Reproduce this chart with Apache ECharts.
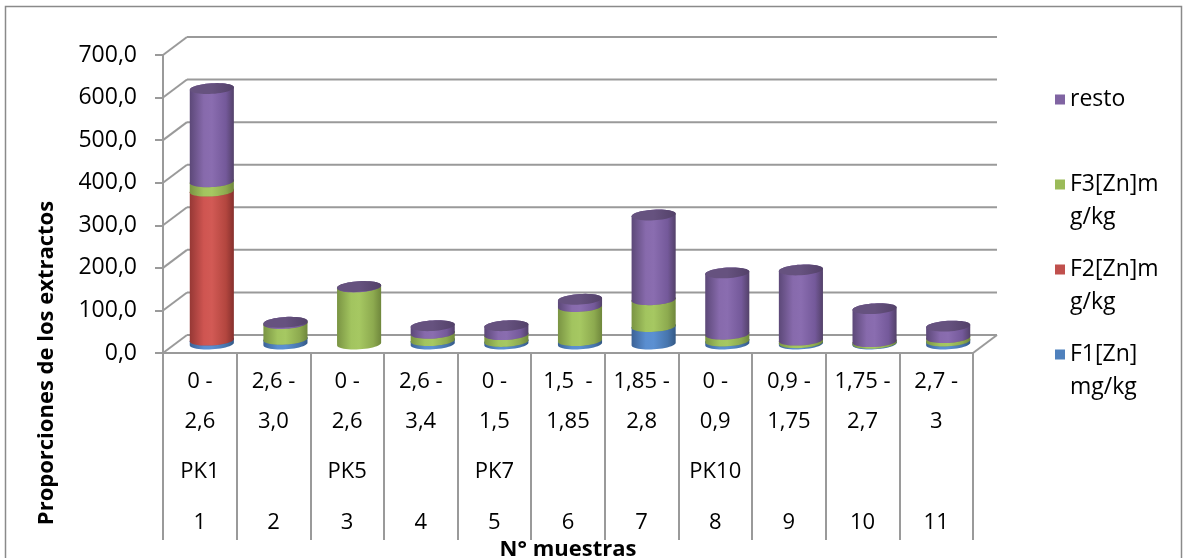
<!DOCTYPE html>
<html>
<head>
<meta charset="utf-8">
<script src="https://cdn.jsdelivr.net/npm/echarts@6/dist/echarts.min.js"></script>
<style>
  html, body { margin: 0; padding: 0; background: #ffffff; }
  #chart { width: 1184px; height: 558px; }
</style>
</head>
<body>
<div id="chart"></div>
<script>
// Depth interval of each sample (two lines), profile label and sample number
const depthFrom = ['0 -', '2,6 -', '0 -', '2,6 -', '0 -', '1,5  -', '1,85 -', '0 -', '0,9 -', '1,75 -', '2,7 -'];
const depthTo   = ['2,6', '3,0', '2,6', '3,4', '1,5', '1,85', '2,8', '0,9', '1,75', '2,7', '3'];
const profiles  = ['PK1', '', 'PK5', '', 'PK7', '', '', 'PK10', '', '', ''];
const sampleNo  = ['1', '2', '3', '4', '5', '6', '7', '8', '9', '10', '11'];

// Zn fractions (mg/kg), stacked bottom to top
const f1    = [9, 11, 0, 8, 6, 8, 41, 7, 3, 1.5, 7];
const f2    = [350, 0, 0, 0, 0, 0, 0, 0, 0, 0, 0];
const f3    = [22, 37, 134, 17, 16, 80, 63, 16, 6, 4, 8];
const resto = [219, 3, 1, 18, 21, 17, 199, 144, 165, 77.5, 27];

const yTicks = [0, 100, 200, 300, 400, 500, 600, 700];

const seriesDefs = [
  { name: 'F1[Zn] mg/kg', legend: 'F1[Zn]\nmg/kg', values: f1,
    color: '#4f81bd', stops: ['#3b6296', '#5a8ed0', '#5b90d2', '#4775ad', '#345985'], cap: '#4170a8' },
  { name: 'F2[Zn]mg/kg', legend: 'F2[Zn]m\ng/kg', values: f2,
    color: '#c0504d', stops: ['#963835', '#cf5551', '#d25a55', '#b3463f', '#86302d'], cap: '#a8423f' },
  { name: 'F3[Zn]mg/kg', legend: 'F3[Zn]m\ng/kg', values: f3,
    color: '#9bbb59', stops: ['#7a9443', '#a2c45f', '#a6c862', '#8daa4f', '#6f873c'], cap: '#88a64d' },
  { name: 'resto', legend: 'resto', values: resto,
    color: '#8064a2', stops: ['#5c4878', '#876aac', '#8a6db0', '#74599a', '#534169'], cap: '#66527f' }
];

// Depth offset of the back wall relative to the front plane
const DX = 24, DY = -18;
const TILT = -0.06;
const GRID_COLOR = '#9a9a9a';

// cumulative stacks
const cum = new Array(f1.length).fill(0);
const stacked = seriesDefs.map(def => def.values.map((v, i) => {
  const base = cum[i];
  cum[i] += v;
  return [i, base, base + v];
}));

function ellipsePts(cx, cy, rx, ry, t0, t1, n) {
  const pts = [];
  const c = Math.cos(TILT), s = Math.sin(TILT);
  for (let k = 0; k <= n; k++) {
    const t = t0 + (t1 - t0) * k / n;
    const ex = rx * Math.cos(t), ey = ry * Math.sin(t);
    pts.push([cx + ex * c - ey * s, cy + ex * s + ey * c]);
  }
  return pts;
}

function makeCylinderRender(def) {
  return function (params, api) {
    const i = api.value(0), b = api.value(1), t = api.value(2);
    if (!(t - b > 0)) return null;
    const p0 = api.coord([i, b]);
    const p1 = api.coord([i, t]);
    const w = api.size([1, 0])[0] * 0.6;
    const rx = w / 2, ry = 5.3;
    const cx = p0[0] + DX / 2;
    const yb = p0[1] + DY / 2;
    const yt = p1[1] + DY / 2;
    const body = ellipsePts(cx, yb, rx, ry, 0, Math.PI, 24)
      .concat(ellipsePts(cx, yt, rx, ry, Math.PI, 2 * Math.PI, 24));
    const cap = ellipsePts(cx, yt, rx, ry, 0, 2 * Math.PI, 48);
    const st = def.stops;
    return {
      type: 'group',
      children: [
        { type: 'polygon', shape: { points: body },
          style: { fill: { type: 'linear', x: 0, y: 0, x2: 1, y2: 0,
            colorStops: [
              { offset: 0, color: st[0] }, { offset: 0.32, color: st[1] },
              { offset: 0.5, color: st[2] }, { offset: 0.82, color: st[3] },
              { offset: 1, color: st[4] } ] } } },
        { type: 'polygon', shape: { points: cap },
          style: { fill: { type: 'linear', x: 0, y: 0, x2: 1, y2: 0,
            colorStops: [ { offset: 0, color: def.cap }, { offset: 0.5, color: def.cap },
              { offset: 1, color: st[4] } ] } } }
      ]
    };
  };
}

// back wall gridlines, left-side diagonals and floor edge
function wallRender(params, api) {
  const v = api.value(0);
  const p = api.coord([0, v]);
  const left = p[0] - api.size([1, 0])[0] / 2;
  const right = api.coord([f1.length - 1, v])[0] + api.size([1, 0])[0] / 2;
  const y = p[1];
  const lw = { stroke: GRID_COLOR, lineWidth: 2 };
  const children = [
    { type: 'line', shape: { x1: left, y1: y, x2: left + DX, y2: y + DY }, style: lw },
    { type: 'line', shape: { x1: left + DX, y1: y + DY, x2: right + DX, y2: y + DY }, style: lw }
  ];
  if (v === 0) {
    children.push({ type: 'line', shape: { x1: right, y1: y, x2: right + DX, y2: y + DY }, style: lw });
  }
  return { type: 'group', children };
}

const fmtNum = v => v.toFixed(1).replace('.', ',');
const FONT = 'Open Sans';

const chart = echarts.init(document.getElementById('chart'));
chart.setOption({
  backgroundColor: '#ffffff',
  animation: false,
  textStyle: { fontFamily: FONT, color: '#000' },
  grid: { left: 163, right: 211, top: 55, bottom: 205, containLabel: false, outerBoundsMode: 'none' },
  legend: {
    orient: 'vertical',
    left: 1050,
    top: 78,
    itemGap: 19,
    itemWidth: 10,
    itemHeight: 43,
    icon: 'path://M0,0H10V10H0Z M0,43H10',
    data: ['resto', 'F3[Zn]mg/kg', 'F2[Zn]mg/kg', 'F1[Zn] mg/kg'],
    formatter: name => {
      const d = seriesDefs.find(s => s.name === name);
      return d.legend.indexOf('\n') < 0 ? d.legend + '\n ' : d.legend;
    },
    textStyle: { fontFamily: FONT, fontSize: 23, lineHeight: 33, color: '#000' }
  },
  xAxis: {
    type: 'category',
    data: sampleNo,
    boundaryGap: true,
    axisLine: { show: true, lineStyle: { color: GRID_COLOR, width: 2 } },
    axisTick: { show: true, interval: 0, length: 187, lineStyle: { color: GRID_COLOR, width: 2 } },
    axisLabel: {
      interval: 0,
      margin: 9,
      formatter: (val, idx) =>
        '{a|' + depthFrom[idx] + '}\n{a|' + depthTo[idx] + '}\n{b|' + (profiles[idx] || ' ') + '}\n{c|' + val + '}',
      rich: {
        a: { fontFamily: FONT, fontSize: 22, lineHeight: 40, color: '#000' },
        b: { fontFamily: FONT, fontSize: 22, lineHeight: 60, color: '#000' },
        c: { fontFamily: FONT, fontSize: 22, lineHeight: 42, color: '#000' }
      }
    },
    name: 'N° muestras',
    nameLocation: 'middle',
    nameGap: 167,
    nameTextStyle: { fontFamily: FONT, fontSize: 22, fontWeight: 'bold', color: '#000' }
  },
  yAxis: {
    type: 'value',
    min: 0,
    max: 700,
    interval: 100,
    axisLine: { show: true, lineStyle: { color: GRID_COLOR, width: 2 } },
    axisTick: { show: true, inside: false, length: 8, lineStyle: { color: GRID_COLOR, width: 2 } },
    splitLine: { show: false },
    axisLabel: { margin: 26, fontFamily: FONT, fontSize: 23, color: '#000', formatter: fmtNum }
  },
  graphic: [
    { type: 'rect', shape: { x: 5.5, y: 6.5, width: 1176, height: 600 },
      style: { fill: null, stroke: '#8a8a8a', lineWidth: 1.5 }, z: -1 },
    { type: 'text', x: 47, y: 363, rotation: Math.PI / 2,
      style: { text: 'Proporciones de los extractos', fontFamily: FONT, fontSize: 22,
        fontWeight: 'bold', fill: '#000', align: 'center', verticalAlign: 'middle' } }
  ],
  series: [
    { type: 'custom', name: 'wall', silent: true, z: 1,
      renderItem: wallRender, data: yTicks.map(v => [v]),
      encode: { y: 0 } }
  ].concat(seriesDefs.map((def, k) => ({
    type: 'custom',
    name: def.name,
    z: 2 + k,
    itemStyle: { color: def.color },
    renderItem: makeCylinderRender(def),
    encode: { x: 0, y: [1, 2] },
    data: stacked[k]
  })))
});
</script>
</body>
</html>
